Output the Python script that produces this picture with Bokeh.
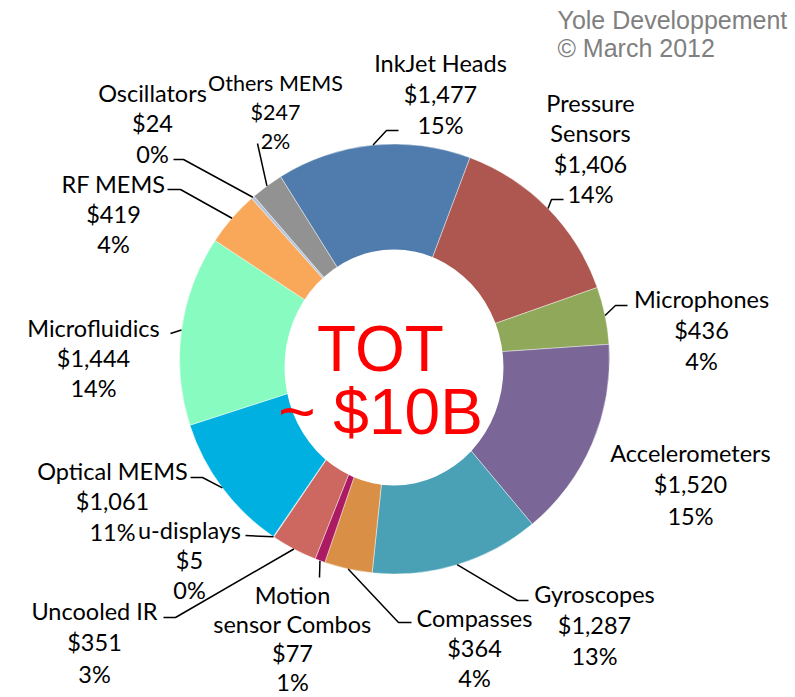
import math
from bokeh.plotting import figure
from bokeh.models import Range1d, ColumnDataSource
from bokeh.core.properties import value
from bokeh.embed import file_html
from bokeh.resources import INLINE

# ---------------- data ----------------
categories = ["InkJet Heads", "Pressure\nSensors", "Microphones", "Accelerometers",
              "Gyroscopes", "Compasses", "Motion\nsensor Combos", "Uncooled IR",
              "u-displays", "Optical MEMS", "Microfluidics", "RF MEMS",
              "Oscillators", "Others MEMS"]
values = [1477, 1406, 436, 1520, 1287, 364, 77, 351, 5, 1061, 1444, 419, 24, 247]
percents = ["15%", "14%", "4%", "15%", "13%", "4%", "1%", "3%", "0%", "11%",
            "14%", "4%", "0%", "2%"]
colors = ["#4f7cac", "#ad5750", "#8fa85a", "#7b6698", "#4aa0b4", "#d99046",
          "#ab1a62", "#cd6860", "#b4c4dc", "#00b0e0", "#88fcc0", "#f9a85a",
          "#b4c4dc", "#929292"]
title_lines = ["TOT", "~ $10B"]
source_lines = ["Yole Developpement", "\u00a9 March 2012"]

# ---------------- layout (reference pixel space, y down) ----------------
W, H = 795, 697
CX, CY, R = 394.0, 358.5, 215.0
HOLE_X, HOLE_Y, HOLE_W, HOLE_H = 393.5, 367.0, 219.0, 236.0
START_DEG = -32.0  # clockwise from 12 o'clock

label_pos = [(440, 62), (590, 102), (701, 298), (690, 452), (594, 593),
             (474, 617), (292, 594), (94, 610), (189, 529), (112, 470),
             (93, 327), (113, 183), (152, 92), (275, 82)]
line_step = [31, 30.5, 31, 31.5, 31, 30, 29, 31.5, 30, 30.5, 30, 30, 30.5, 29]
font_px = [23.5] * 13 + [21.5]
leader_tail = [
    [(386, 130), (398, 130)],
    [(551, 199), (563, 199)],
    [(615, 305), (627, 305)],
    [],
    [(517, 600), (528, 600)],
    [(398, 622), (411, 622)],
    [(319, 577)],
    [(175, 617), (163, 617)],
    [(245, 535)],
    [(202, 477), (190, 477)],
    [(170, 333)],
    [(180, 189), (167, 189)],
    [(183, 159), (173, 159)],
    [(257, 143)],
]

PW, PH = 795, 697


def fy(y):
    return H - y


p = figure(width=PW, height=PH, x_range=Range1d(0, W), y_range=Range1d(0, H),
           output_backend="svg", toolbar_location=None, min_border=0)
p.axis.visible = False
p.grid.visible = False
p.outline_line_color = None
p.background_fill_color = "white"
p.border_fill_color = "white"

# wedges
total = sum(values)
starts, ends, mids = [], [], []
acc = START_DEG
for v in values:
    a0 = acc
    a1 = acc + v / total * 360.0
    acc = a1
    # bokeh: anticlockwise from +x
    starts.append(math.radians(90 - a1))
    ends.append(math.radians(90 - a0))
    mids.append((a0 + a1) / 2)

src = ColumnDataSource(dict(start=starts, end=ends, color=colors))
p.wedge(x=CX, y=fy(CY), radius=R, start_angle="start", end_angle="end",
        fill_color="color", line_color="white", line_width=0.6, line_alpha=0.7,
        source=src)
p.ellipse(x=HOLE_X, y=fy(HOLE_Y), width=HOLE_W, height=HOLE_H,
          fill_color="white", line_color=None)

# leader lines
xs, ys = [], []
for m, tail in zip(mids, leader_tail):
    if not tail:
        continue
    sx = CX + R * math.sin(math.radians(m))
    sy = CY - R * math.cos(math.radians(m))
    pts = [(sx, sy)] + tail
    xs.append([q[0] for q in pts])
    ys.append([fy(q[1]) for q in pts])
p.multi_line(xs, ys, line_color="black", line_width=1.5)

# labels
for name, v, pc, (lx, ly), step, fs in zip(categories, values, percents,
                                            label_pos, line_step, font_px):
    lines = name.split("\n") + [f"${v:,}", pc]
    tx = [lx] * len(lines)
    ty = [fy(ly + i * step) for i in range(len(lines))]
    p.text(x=tx, y=ty, text=lines, text_align="center", text_baseline="middle",
           text_font=value("Lato"), text_font_size=value(f"{fs:.1f}px"),
           text_color="black")

# centre title
p.text(x=[380, 380], y=[fy(348), fy(411)], text=title_lines, text_align="center",
       text_baseline="middle", text_font=value("Liberation Sans"),
       text_font_size=value("64px"), text_color="#ff0000")

# source note
p.text(x=[557, 557], y=[fy(19), fy(47)], text=source_lines, text_align="left",
       text_baseline="middle", text_font=value("Liberation Sans"),
       text_font_size=value("25px"), text_color="#808080")

open("out.html", "w").write(file_html(p, INLINE))
